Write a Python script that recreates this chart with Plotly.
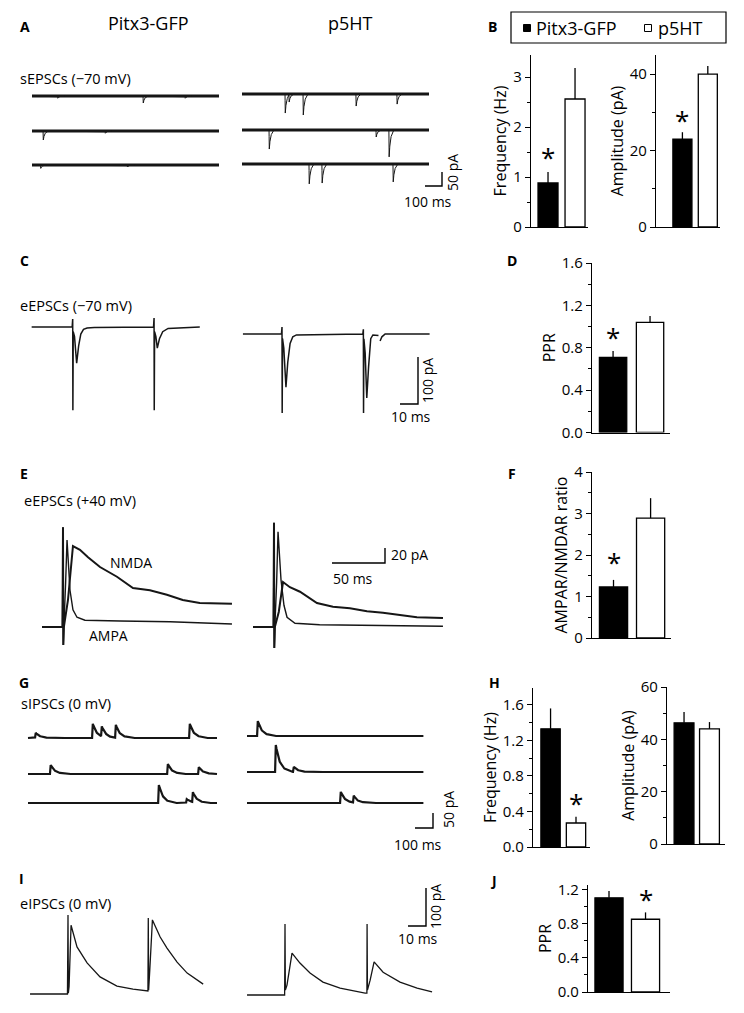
import numpy as np
import plotly.graph_objects as go

# page geometry: the html body has an 8 px default margin, so the figure is
# sized to fit inside it and all layout positions are given in page pixels
W, H = 744, 1013
BODY = 8
FW, FH = W - 2 * BODY, H - 2 * BODY
FONT = "Open Sans"
INK = "#161616"

# ---------------------------------------------------------------- data
groups = ["Pitx3-GFP", "p5HT"]

# bar summaries (mean, SEM)
sepsc_freq = [0.88, 2.56]
sepsc_freq_err = [0.22, 0.62]
sepsc_amp = [23.0, 40.0]
sepsc_amp_err = [1.8, 2.1]
eepsc_ppr = [0.71, 1.04]
eepsc_ppr_err = [0.06, 0.06]
ampa_nmda_ratio = [1.23, 2.89]
ampa_nmda_ratio_err = [0.17, 0.48]
sipsc_freq = [1.33, 0.27]
sipsc_freq_err = [0.23, 0.07]
sipsc_amp = [46.3, 44.0]
sipsc_amp_err = [4.1, 2.6]
eipsc_ppr = [1.10, 0.85]
eipsc_ppr_err = [0.08, 0.08]

# sEPSC example sweeps: event times (ms) and amplitudes (pA), 3 sweeps each
SEPSC_SWEEP_MS = 1100
sepsc_pitx3_t = [[150, 653, 900], [65, 430], [50, 560]]
sepsc_pitx3_a = [[8, 25, 8], [32, 8], [12, 7]]
sepsc_p5ht_t = [[253, 276, 359, 670, 911], [159, 788, 864], [394, 470, 888]]
sepsc_p5ht_a = [[68, 28, 75, 43, 36], [68, 25, 96], [71, 68, 64]]

# eEPSC (-70 mV) paired pulse sweeps: time (ms, from 1st stimulus), current (pA)
eepsc_pitx3_t = [-22.8, -0.3, 0, 0.1, 0.3, 1.0, 2.2, 3.3, 4.5, 6, 8, 12, 44.9, 45.2, 45.3, 45.5,
                 46.2, 47.0, 48.2, 50, 53, 70.6]
eepsc_pitx3_i = [0, 0, 17, -177, -10, -20, -77, -40, -15, -5, -2, -1, 0, 19, -177, -10,
                 -20, -45, -25, -10, -3, 0]
eepsc_p5ht_t = [-21.7, -0.3, 0, 0.1, 0.3, 1.0, 2.2, 3.2, 4.5, 6, 8, 44.9, 45.2, 45.3, 45.5,
                46.2, 47.1, 48.1, 49.3, 50.5, 53.6, None, 54.5, 55.5, 57.3, 82]
eepsc_p5ht_i = [0, 0, 15, -168, -10, -30, -113, -60, -20, -6, -2, 0, 10, -168, -10,
                -40, -136, -70, -10, -2, -3, None, -15, -6, 0, 0]

# eEPSC (+40 mV): AMPA and NMDA components
ampa_pitx3_t = [-19.8, -0.5, 0, 0.3, 0.8, 2.5, 3.8, 6.6, 9.4, 13.2, 20.7, 53.8, 101, 159.4]
ampa_pitx3_i = [0, 0, 133, -24, 0, 60, 116, 49, 23, 13, 9, 8, 7, 4]
nmda_pitx3_t = [-19.8, -0.5, 0, 0.3, 0.8, 4.7, 9.4, 16, 23.6, 34.9, 50.9, 66, 82, 98, 113,
                129, 145, 159.4]
nmda_pitx3_i = [0, 0, 133, -24, 0, 36, 108, 103, 93, 80, 67, 52, 49, 43, 36, 32, 32, 31]
ampa_p5ht_t = [-19.8, -0.5, 0, 0.3, 0.8, 2.5, 3.8, 6.6, 9.4, 12.3, 19.8, 43, 159.4]
ampa_p5ht_i = [0, 0, 139, -28, 0, 60, 127, 63, 29, 13, 5, 3, 1]
nmda_p5ht_t = [-19.8, -0.5, 0, 0.3, 0.8, 4.5, 8.5, 15, 24.5, 40.5, 55.6, 71.6, 87.7, 102.8,
               118.8, 134.8, 159.4]
nmda_p5ht_i = [0, 0, 139, -28, 0, 20, 60, 53, 47, 32, 27, 25, 21, 19, 16, 13, 12]

# sIPSC example sweeps (upward events)
SIPSC_SWEEP_MS = [1050, 980]
sipsc_pitx3_t = [[39, 356, 406, 484, 895], [122, 773, 945], [723, 878, 912]]
sipsc_pitx3_a = [[17, 47, 33, 43, 47], [30, 33, 23], [60, 13, 33]]
sipsc_p5ht_t = [[56], [156, 256], [517, 589]]
sipsc_p5ht_a = [[50], [90, 17], [37, 23]]

# eIPSC paired pulse sweeps
eipsc_pitx3_t = [-21.1, -0.3, 0, 0.2, 0.6, 1.7, 5.0, 10.6, 17.8, 27.2, 36.1, 44.4, 44.6, 44.8,
                 45.4, 46.9, 51.2, 55.0, 60.6, 66.2, 75.1]
eipsc_pitx3_i = [0, 0, 208, 2, 20, 181, 124, 82, 45, 21, 13, 8, 200, 10,
                 60, 195, 150, 121, 84, 55, 26]
eipsc_p5ht_t = [-21.1, -0.2, 0, 0.2, 1.1, 3.9, 8.3, 13.9, 21.1, 30.6, 44.5, 45.5, 45.6, 45.8,
                47.3, 49.5, 54.5, 63.9, 73.4, 81.7]
eipsc_p5ht_i = [0, 0, 187, 13, 26, 110, 84, 58, 34, 18, 5, 5, 187, 13,
                39, 87, 60, 34, 18, 8]

# ---------------------------------------------------------------- helpers
fig = go.Figure()
layout = {}
annotations = []
shapes = []
panels = {}


def fx(x):
    return (x - BODY) / FW


def fy(y):
    return 1 - (y - BODY) / FH


def sfx(n):
    return "" if n == 1 else str(n)


def trace_panel(n, box, ms_px, pa_px, origin):
    x0, y0, x1, y1 = box
    ox, oy = origin
    panels[n] = (ms_px, pa_px, ox, oy)
    s = sfx(n)
    layout["xaxis" + s] = dict(domain=[fx(x0), fx(x1)], range=[(x0 - ox) * ms_px, (x1 - ox) * ms_px],
                               visible=False, anchor="y" + s, fixedrange=True, automargin=False)
    layout["yaxis" + s] = dict(domain=[fy(y1), fy(y0)], range=[(oy - y1) * pa_px, (oy - y0) * pa_px],
                               visible=False, anchor="x" + s, fixedrange=True, automargin=False)


def to_data(n, x, y):
    ms_px, pa_px, ox, oy = panels[n]
    return (x - ox) * ms_px, (oy - y) * pa_px


def line(n, xs, ys, width=1.2, color=INK):
    s = sfx(n)
    fig.add_trace(go.Scatter(x=xs, y=ys, mode="lines", xaxis="x" + s, yaxis="y" + s,
                             line=dict(color=color, width=width), showlegend=False,
                             hoverinfo="skip", connectgaps=False))


def shifted(ts, vs, dt, dv):
    xs = [None if t is None else t + dt for t in ts]
    ys = [None if v is None else v + dv for v in vs]
    return xs, ys


def event_sweep(times, amps, dur, kt, ky, step=0.5):
    t = np.arange(0, dur + step, step)
    y = np.zeros_like(t)
    for ti, ai in zip(times, amps):
        y += ai * np.interp(t - ti, kt, ky, left=0, right=0)
    return t, y


def scale_bar(n, corner_px, t_len, i_len, width=1.4):
    cx, cy = to_data(n, *corner_px)
    line(n, [cx - t_len, cx, cx], [cy, cy, cy + i_len], width=width, color="black")


def text(t, x, y, size=14, xanchor="center", angle=0, bold=False, family=FONT):
    if bold:
        t = "<b>" + t + "</b>"
    annotations.append(dict(text=t, x=fx(x), y=fy(y), xref="paper", yref="paper",
                            xanchor=xanchor, yanchor="middle", showarrow=False, textangle=angle,
                            font=dict(size=size, family=family, color="black")))


def rect(x0, y0, x1, y1, fill="rgba(0,0,0,0)", width=1.2):
    shapes.append(dict(type="rect", xref="paper", yref="paper", x0=fx(x0), x1=fx(x1),
                       y0=fy(y1), y1=fy(y0), fillcolor=fill,
                       line=dict(color="black", width=width)))


def bar_panel(n, axis_x, x_end, y_top, y_zero, yrange, tickvals, ticktext, minor_dtick,
              title, values, errs, xrange, width, standoff=2, star=None):
    s = str(n)
    layout["xaxis" + s] = dict(domain=[fx(axis_x), fx(x_end)], range=xrange, anchor="y" + s,
                               showline=True, linecolor="black", linewidth=1.3, ticks="",
                               showticklabels=False, showgrid=False, zeroline=False,
                               fixedrange=True, type="category", automargin=False)
    layout["yaxis" + s] = dict(domain=[fy(y_zero), fy(y_top)], range=yrange, anchor="x" + s,
                               showline=True, linecolor="black", linewidth=1.3,
                               ticks="outside", ticklen=5, tickwidth=1.2, tickcolor="black",
                               tickvals=tickvals, ticktext=ticktext,
                               minor=dict(ticks="outside", ticklen=3, tickwidth=1, tickcolor="black",
                                          dtick=minor_dtick, showgrid=False),
                               tickfont=dict(size=15, family=FONT, color="black"),
                               title=dict(text=title, standoff=standoff,
                                          font=dict(size=16, family=FONT, color="black")),
                               showgrid=False, zeroline=False, fixedrange=True, automargin=False)
    fills = ["black", "white"]
    for k in range(2):
        fig.add_trace(go.Bar(x=[groups[k]], y=[values[k]], width=[width], xaxis="x" + s, yaxis="y" + s,
                             marker=dict(color=fills[k], line=dict(color="black", width=1.3)),
                             error_y=dict(type="data", symmetric=False, array=[errs[k]], arrayminus=[0],
                                          color="black", thickness=1.3, width=0),
                             name=groups[k], showlegend=False, hoverinfo="skip"))
    if star is not None:
        k, yv = star
        annotations.append(dict(text="*", x=groups[k], y=yv, xref="x" + s, yref="y" + s,
                                showarrow=False, xanchor="center", yanchor="middle", yshift=-2,
                                font=dict(size=26, family=FONT, color="black")))


# ---------------------------------------------------------------- A: sEPSCs
trace_panel(1, (8, 80, 470, 205), 100 / 17, 50 / 14, (32, 96))
sepsc_kt = [-1, 0, 1.5, 8, 25]
sepsc_ky = [0, 0, -1, -0.35, 0]
for side, (T, A, start, bases) in enumerate([
        (sepsc_pitx3_t, sepsc_pitx3_a, 32, [96, 131, 165]),
        (sepsc_p5ht_t, sepsc_p5ht_a, 242, [94, 130, 164])]):
    for r in range(3):
        dt, dv = to_data(1, start, bases[r])
        t, y = event_sweep(T[r], A[r], SEPSC_SWEEP_MS, sepsc_kt, sepsc_ky)
        line(1, [dt, dt + SEPSC_SWEEP_MS], [dv, dv], width=2.8)
        line(1, t + dt, y + dv, width=1.0)
scale_bar(1, (442, 186), 100, 50)

# ---------------------------------------------------------------- C: eEPSCs -70
trace_panel(2, (8, 300, 470, 425), 10 / 18, 100 / 47, (72.7, 327))
for ts, vs, org in [(eepsc_pitx3_t, eepsc_pitx3_i, (72.7, 327)), (eepsc_p5ht_t, eepsc_p5ht_i, (282, 334))]:
    dt, dv = to_data(2, *org)
    xs, ys = shifted(ts, vs, dt, dv)
    line(2, xs, ys, width=1.5)
scale_bar(2, (418, 404), 10, 100)

# ---------------------------------------------------------------- E: eEPSCs +40
trace_panel(3, (8, 510, 470, 660), 50 / 53, 20 / 15, (63, 627))
for (at, ai, nt, ni, org) in [(ampa_pitx3_t, ampa_pitx3_i, nmda_pitx3_t, nmda_pitx3_i, (63, 627)),
                              (ampa_p5ht_t, ampa_p5ht_i, nmda_p5ht_t, nmda_p5ht_i, (274, 627))]:
    dt, dv = to_data(3, *org)
    xs, ys = shifted(at, ai, dt, dv)
    line(3, xs, ys, width=1.4)
    xs, ys = shifted(nt, ni, dt, dv)
    line(3, xs, ys, width=2.0)
scale_bar(3, (385, 563), 50, 20)

# ---------------------------------------------------------------- G: sIPSCs
trace_panel(4, (8, 710, 470, 840), 100 / 18, 50 / 15, (28, 738))
sipsc_kt = [-1, 0, 4, 20, 45, 90]
sipsc_ky = [0, 0, 1, 0.45, 0.15, 0]
for side, (T, A, start, bases) in enumerate([
        (sipsc_pitx3_t, sipsc_pitx3_a, 28, [738, 774, 803]),
        (sipsc_p5ht_t, sipsc_p5ht_a, 247, [736, 772, 803])]):
    for r in range(3):
        dt, dv = to_data(4, start, bases[r])
        t, y = event_sweep(T[r], A[r], SIPSC_SWEEP_MS[side], sipsc_kt, sipsc_ky)
        line(4, t + dt, y + dv, width=2.2)
scale_bar(4, (433, 828), 100, 50)

# ---------------------------------------------------------------- I: eIPSCs
trace_panel(5, (8, 880, 470, 1004), 10 / 18, 100 / 38, (68, 994))
for ts, vs, org in [(eipsc_pitx3_t, eipsc_pitx3_i, (68, 994)), (eipsc_p5ht_t, eipsc_p5ht_i, (285, 995))]:
    dt, dv = to_data(5, *org)
    xs, ys = shifted(ts, vs, dt, dv)
    line(5, xs, ys, width=1.3)
scale_bar(5, (426, 926), 10, 100)

# ---------------------------------------------------------------- bar charts
bar_panel(6, 531, 588, 55, 227, [0, 3.44], [0, 1, 2, 3], ["0", "1", "2", "3"], 0.5,
          "Frequency (Hz)", sepsc_freq, sepsc_freq_err, [-0.63, 1.48], 0.74, star=(0, 1.44))
bar_panel(7, 656, 720, 55, 227, [0, 45], [0, 20, 40], ["0", "20", "40"], 10,
          "Amplitude (pA)", sepsc_amp, sepsc_amp_err, [-1.04, 1.48], 0.75, star=(0, 28.5))
bar_panel(8, 592, 670, 263, 432.5, [0, 1.6], [0, 0.4, 0.8, 1.2, 1.6],
          ["0.0", "0.4", "0.8", "1.2", "1.6"], 0.2,
          "PPR", eepsc_ppr, eepsc_ppr_err, [-0.57, 1.54], 0.74, star=(0, 0.92))
bar_panel(9, 592, 671, 472, 638, [0, 4], [0, 1, 2, 3, 4], ["0", "1", "2", "3", "4"], 0.5,
          "AMPAR/NMDAR ratio", ampa_nmda_ratio, ampa_nmda_ratio_err, [-0.58, 1.55], 0.76, star=(0, 1.88))
bar_panel(10, 533, 590, 688, 847, [0, 1.79], [0, 0.4, 0.8, 1.2, 1.6],
          ["0.0", "0.4", "0.8", "1.2", "1.6"], 0.2,
          "Frequency (Hz)", sipsc_freq, sipsc_freq_err, [-0.69, 1.55], 0.76, star=(1, 0.52))
bar_panel(11, 667, 725, 687, 844, [0, 60], [0, 20, 40, 60], ["0", "20", "40", "60"], 10,
          "Amplitude (pA)", sipsc_amp, sipsc_amp_err, [-0.67, 1.61], 0.78)
bar_panel(12, 588, 670, 885, 992, [0, 1.25], [0, 0.4, 0.8, 1.2], ["0.0", "0.4", "0.8", "1.2"], 0.2,
          "PPR", eipsc_ppr, eipsc_ppr_err, [-0.575, 1.67], 0.77, star=(1, 1.11))

# group key (legend box of panel B)
rect(511, 12, 726, 43)
rect(523.5, 24.5, 530.5, 31.5, fill="black", width=1)
rect(644.5, 24.5, 651.5, 31.5, fill="white", width=1)
text(groups[0], 534, 28, size=18, xanchor="left")
text(groups[1], 656, 28, size=18, xanchor="left")

# ---------------------------------------------------------------- text
text("Pitx3-GFP", 148, 23, size=18)
text("p5HT", 350, 23, size=18)
for letter, x, y in [("A", 25, 26), ("B", 492, 26), ("C", 24, 261), ("D", 512, 261), ("E", 24, 473),
                     ("F", 512, 473), ("G", 24, 682), ("H", 495, 682), ("I", 21, 878), ("J", 493, 880)]:
    text(letter, x, y, size=14, bold=True)
text("sEPSCs (\u221270 mV)", 18, 78, size=14.5, xanchor="left")
text("eEPSCs (\u221270 mV)", 18, 305, size=14.5, xanchor="left")
text("eEPSCs (+40 mV)", 22, 500, size=14.5, xanchor="left")
text("sIPSCs (0 mV)", 19, 703, size=14.5, xanchor="left")
text("eIPSCs (0 mV)", 18, 903, size=14.5, xanchor="left")
text("NMDA", 131, 562, size=14)
text("AMPA", 108, 635, size=14)
# scale bar labels
text("50 pA", 452, 173, size=14, angle=-90)
text("100 ms", 428, 202, size=14)
text("100 pA", 427, 380, size=14, angle=-90)
text("10 ms", 411, 416, size=14)
text("20 pA", 389, 554, size=14, xanchor="left")
text("50 ms", 353, 578, size=14)
text("50 pA", 448, 810, size=14, angle=-90)
text("100 ms", 418, 844, size=14)
text("100 pA", 435, 907, size=14, angle=-90)
text("10 ms", 418, 938, size=14)

layout.update(dict(
    template="none",
    width=FW, height=FH, autosize=False, margin=dict(l=0, r=0, t=0, b=0, pad=0, autoexpand=False),
    paper_bgcolor="white", plot_bgcolor="rgba(0,0,0,0)",
    barmode="overlay", showlegend=False,
    font=dict(family=FONT, color="black"),
    annotations=annotations, shapes=shapes,
))
fig.update_layout(**layout)
fig.write_html("out.html", config={"displayModeBar": False})
